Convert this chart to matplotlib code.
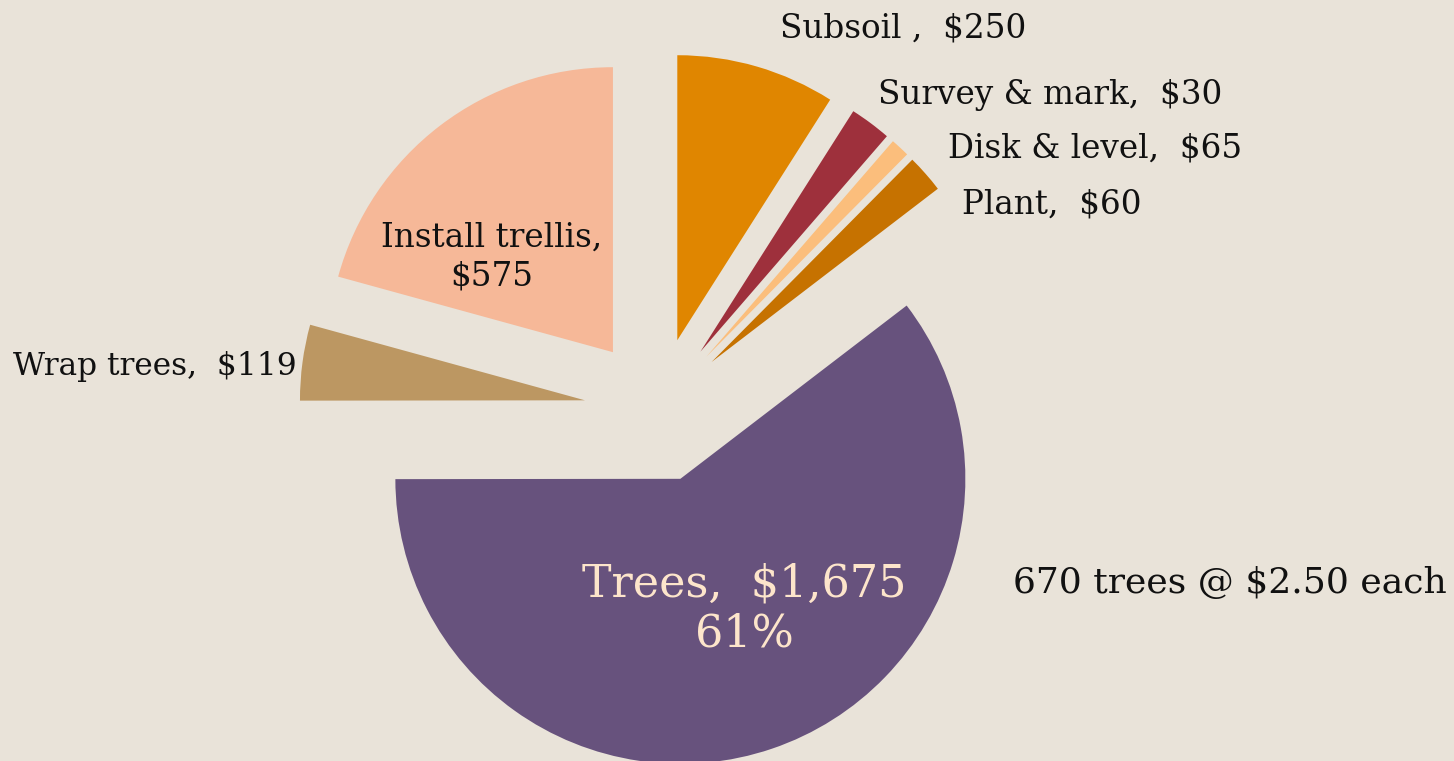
import matplotlib.pyplot as plt

# slice order clockwise from 12 o'clock
categories = ['Subsoil', 'Disk & level', 'Survey & mark', 'Plant', 'Trees', 'Wrap trees', 'Install trellis']
costs = [250, 65, 30, 60, 1675, 119, 575]
colors = ['#E08600', '#9E303C', '#FBBE7C', '#C67200', '#67527D', '#BC9762', '#F6B898']

bg = '#E9E3D9'
font = 'DejaVu Serif'

W, H = 1454, 761
radius = 285
fig = plt.figure(figsize=(W / 100, H / 100), dpi=100, facecolor=bg)
ax = fig.add_axes([0, 0, 1, 1])
ax.set_facecolor(bg)

# explode is given in data units here, so scale it by the radius
ax.pie(costs, colors=colors, startangle=90, counterclock=False,
       explode=[0.255 * radius] * len(costs), radius=radius, center=(657, 351),
       wedgeprops=dict(linewidth=0))

ax.set_xlim(0, W)
ax.set_ylim(0, H)
ax.set_aspect('equal')
ax.axis('off')

fs = 23.5
lab = dict(family=font, color='#111111', va='center')
ax.text(780, H - 28, 'Subsoil ,  $250', ha='left', fontsize=fs, **lab)
ax.text(878, H - 95, 'Survey & mark,  $30', ha='left', fontsize=fs, **lab)
ax.text(948, H - 148, 'Disk & level,  $65', ha='left', fontsize=fs, **lab)
ax.text(962, H - 204, 'Plant,  $60', ha='left', fontsize=fs, **lab)
ax.text(492, H - 257, 'Install trellis,\n$575', ha='center', multialignment='center',
        linespacing=1.3, fontsize=fs, **lab)
ax.text(297, H - 367, 'Wrap trees,  $119', ha='right', fontsize=22.5, **lab)
ax.text(1447, H - 583, '670 trees @ $2.50 each', ha='right', fontsize=26, **lab)

pct = round(costs[4] / sum(costs) * 100 + 0.5)
ax.text(744, H - 609, f'Trees,  ${costs[4]:,}\n{pct}%', ha='center', va='center',
        multialignment='center', fontsize=32, family=font, color='#FDE5CB', linespacing=1.2)

fig.savefig('out.png', dpi=100, facecolor=bg)
